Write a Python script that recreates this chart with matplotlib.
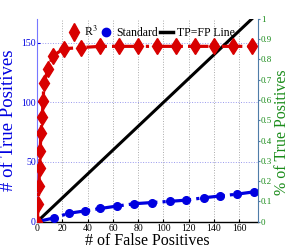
import matplotlib
matplotlib.use("Agg")
import matplotlib.pyplot as plt
from matplotlib.lines import Line2D

plt.rcParams['font.family'] = ['Liberation Serif', 'DejaVu Serif']
plt.rcParams['mathtext.fontset'] = 'stix'

# R^3 series (false positives, true positives)
r3_fp = [0, 0.8, 1.3, 1.9, 2.3, 2.9, 3.9, 4.7, 5.2, 8.5, 12.4, 20.9, 35, 50, 65, 80, 95, 110, 125, 140, 155, 170]
r3_tp = [0, 15, 30, 45, 59, 74, 88, 101, 116, 128, 139, 145, 146, 147, 147, 147, 147, 147, 147, 147, 147, 147]
# Standard series
std_fp = [0, 13, 25, 38, 50, 63, 77, 91, 105, 118, 132, 145, 158, 172]
std_tp = [0, 3, 7, 9, 11, 13, 15, 16, 17, 18, 20, 21.5, 23, 25]
# TP = FP reference line
ref_x = [0, 175]
ref_y = [0, 175]

xticks = [0, 20, 40, 60, 80, 100, 120, 140, 160]
yticks = [0, 50, 100, 150]
rticks = [0, 0.1, 0.2, 0.3, 0.4, 0.5, 0.6, 0.7, 0.8, 0.9, 1]
rlabels = ['0', '0.1', '0.2', '0.3', '0.4', '0.5', '0.6', '0.7', '0.8', '0.9', '1']

red = '#d80000'
blue = '#0000e0'
green = '#1a8c1a'

fig = plt.figure(figsize=(2.91, 2.49), dpi=100)
ax = fig.add_axes([0.128, 0.110, 0.759, 0.814])

ax.plot(ref_x, ref_y, color='black', lw=2.2, zorder=3)
ax.plot(std_fp, std_tp, color=blue, lw=2.3, ls='-.', marker='o', ms=5.5,
        markeredgecolor=blue, zorder=4)
ax.plot(r3_fp, r3_tp, color=red, lw=2.3, ls='-.', marker='d', ms=8,
        markeredgecolor=red, zorder=5)

ax.set_xlim(0, 175)
ax.set_ylim(0, 170)
ax.set_xticks(xticks)
ax.set_yticks(yticks)
ax.tick_params(axis='x', direction='in', labelsize=7, length=2, pad=2, colors='black')
ax.tick_params(axis='y', direction='in', labelsize=7, length=2, pad=1, labelcolor=blue, color=blue)
ax.grid(axis='x', ls=':', color='#aaaaaa', lw=0.7)
ax.grid(axis='y', ls=':', color='#9999ee', lw=0.7)
ax.spines['top'].set_visible(False)
ax.spines['right'].set_visible(False)
ax.spines['left'].set_color('#7777ff')
ax.spines['bottom'].set_color('black')
ax.spines['bottom'].set_linewidth(1.0)

ax.set_xlabel('# of False Positives', fontsize=11.5, labelpad=0)
ax.set_ylabel('# of True Positives', fontsize=13.5, color=blue, labelpad=3)

ax2 = ax.twinx()
ax2.set_ylim(0, 1.0)
ax2.set_yticks(rticks)
ax2.set_yticklabels(rlabels)
ax2.tick_params(axis='y', direction='out', labelsize=6.5, length=1.5, pad=0.5,
                labelcolor=green, color='#4f7ca8')
for s in ['top', 'left', 'bottom']:
    ax2.spines[s].set_visible(False)
ax2.spines['right'].set_color('#4f7ca8')
fig.text(0.998, 0.47, '% of True Positives', fontsize=11.5, color=green,
         rotation=90, ha='right', va='center')

handles = [
    Line2D([], [], color=red, marker='d', ms=9, ls='none'),
    Line2D([], [], color=blue, marker='o', ms=6, ls='none'),
    Line2D([], [], color='black', lw=2.5),
]
ax.legend(handles, ['R$^3$', 'Standard', 'TP=FP Line'], loc='center',
          bbox_to_anchor=(0.515, 0.936), ncol=3, frameon=False, fontsize=8.5,
          handlelength=1.1, handletextpad=0.3, columnspacing=0.2, borderaxespad=0.0,
          borderpad=0.0)

fig.savefig('out.png', dpi=100)
